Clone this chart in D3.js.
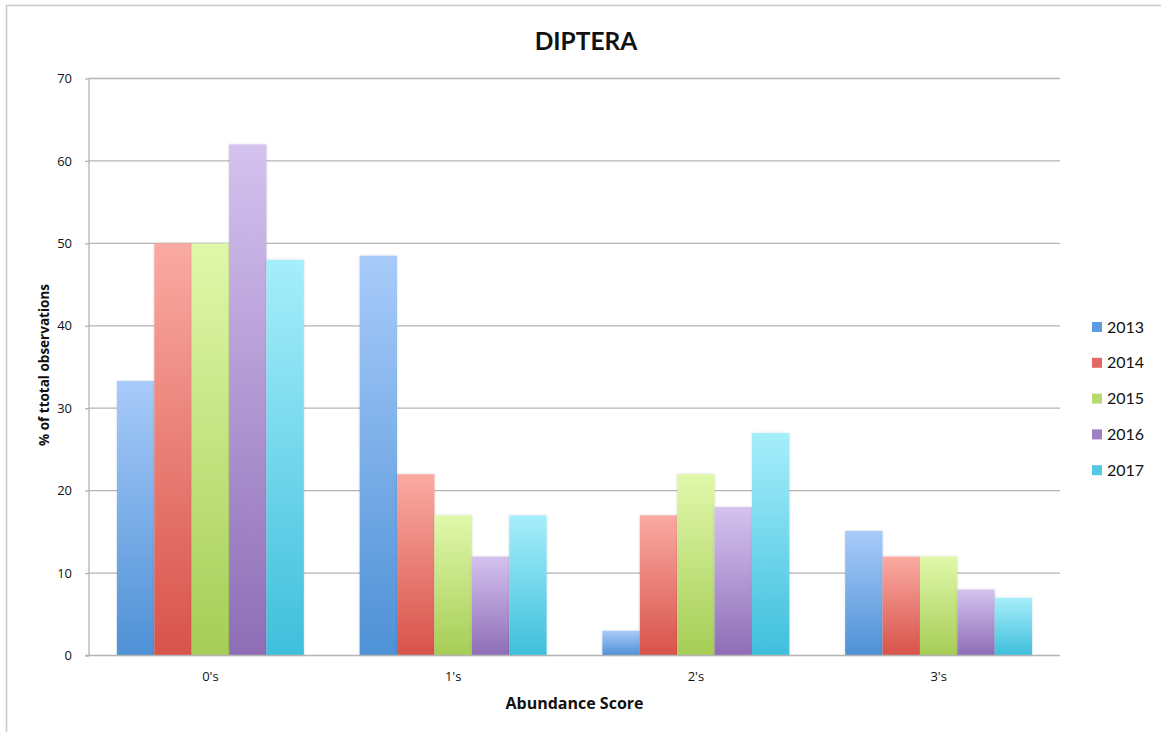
<!DOCTYPE html>
<html>
<head>
<meta charset="utf-8">
<script src="https://cdn.jsdelivr.net/npm/d3@7"></script>
<style>
  html, body { margin: 0; padding: 0; background: #fff; }
  svg { display: block; }
</style>
</head>
<body>
<div id="chart"></div>
<script>
// Abundance score categories and yearly percentages
const categories = ["0's", "1's", "2's", "3's"];
const years = ["2013", "2014", "2015", "2016", "2017"];
const values2013 = [33.3, 48.5, 3, 15.1];
const values2014 = [50, 22, 17, 12];
const values2015 = [50, 17, 22, 12];
const values2016 = [62, 12, 18, 8];
const values2017 = [48, 17, 27, 7];
const yTicks = [0, 10, 20, 30, 40, 50, 60, 70];

const seriesValues = [values2013, values2014, values2015, values2016, values2017];

// light (top) and dark (bottom) stops of each year's bar gradient
const topColors = ["#a8cbfa", "#faaaa2", "#e0f8aa", "#d4c2ef", "#a6eefb"];
const bottomColors = ["#4e91d6", "#d8534a", "#a6cd56", "#8e6db6", "#3fbfdc"];
const legendColors = ["#5d9be0", "#e26a62", "#b7da72", "#9f80c4", "#52c8e4"];

const W = 1161, H = 732;
const margin = { left: 89, right: 101, top: 78.5, bottom: 76.5 };
const plotW = W - margin.left - margin.right;
const plotH = H - margin.top - margin.bottom;

const svg = d3.select("#chart").append("svg")
  .attr("width", W).attr("height", H);

const defs = svg.append("defs");
years.forEach((yr, i) => {
  const g = defs.append("linearGradient")
    .attr("id", "grad" + i)
    .attr("x1", 0).attr("y1", 0).attr("x2", 0).attr("y2", 1);
  g.append("stop").attr("offset", "0%").attr("stop-color", topColors[i]);
  g.append("stop").attr("offset", "100%").attr("stop-color", bottomColors[i]);
});
const shadow = defs.append("filter").attr("id", "shadow")
  .attr("x", "-20%").attr("y", "-5%").attr("width", "140%").attr("height", "110%");
shadow.append("feDropShadow")
  .attr("dx", 0).attr("dy", 0).attr("stdDeviation", 1.2)
  .attr("flood-color", "#000").attr("flood-opacity", 0.18);

// outer frame
svg.append("path")
  .attr("d", `M6.5,${H} V5.5 H${W}`)
  .attr("fill", "none").attr("stroke", "#c8c8c8").attr("stroke-width", 1.5);

const g = svg.append("g").attr("transform", `translate(${margin.left},${margin.top})`);

const x0 = d3.scaleBand().domain(categories).range([0, plotW]).paddingInner(0.23).paddingOuter(0.115);
const x1 = d3.scaleBand().domain(years).range([0, x0.bandwidth()]).padding(0);
const y = d3.scaleLinear().domain([0, 70]).range([plotH, 0]);

// horizontal gridlines
g.append("g").selectAll("line").data(yTicks.slice(1)).join("line")
  .attr("x1", 0).attr("x2", plotW)
  .attr("y1", d => y(d)).attr("y2", d => y(d))
  .attr("stroke", "#b4b4b4").attr("stroke-width", 1.3);

// y axis
const yAxis = g.append("g")
  .call(d3.axisLeft(y).tickValues(yTicks).tickSize(4).tickPadding(13).tickFormat(d3.format("d")));
yAxis.select(".domain").attr("stroke", "#b4b4b4").attr("stroke-width", 1.3).attr("d", `M0,0 V${plotH}`);
yAxis.selectAll(".tick line").attr("stroke", "#b4b4b4").attr("stroke-width", 1.3);
yAxis.selectAll(".tick text")
  .attr("font-family", "'Open Sans', 'DejaVu Sans', sans-serif")
  .attr("font-size", 13).attr("fill", "#111");

// bars
const groups = g.append("g").selectAll("g").data(categories).join("g")
  .attr("transform", d => `translate(${x0(d)},0)`);
groups.selectAll("rect")
  .data((c, ci) => years.map((yr, si) => ({ yr, si, v: seriesValues[si][ci] })))
  .join("rect")
  .attr("x", d => x1(d.yr))
  .attr("width", x1.bandwidth())
  .attr("y", d => y(d.v))
  .attr("height", d => plotH - y(d.v))
  .attr("fill", d => `url(#grad${d.si})`)
  .attr("filter", "url(#shadow)");

// x axis
const xAxis = g.append("g").attr("transform", `translate(0,${plotH})`)
  .call(d3.axisBottom(x0).tickSize(0).tickPadding(16));
xAxis.select(".domain").attr("stroke", "#b4b4b4").attr("stroke-width", 1.3).attr("d", `M-4,0 H${plotW}`);
xAxis.selectAll(".tick text")
  .attr("font-family", "'Open Sans', 'DejaVu Sans', sans-serif")
  .attr("font-size", 13).attr("fill", "#111");

// titles
svg.append("text")
  .attr("x", 586).attr("y", 49.5)
  .attr("text-anchor", "middle")
  .attr("font-family", "Lato, 'Open Sans', sans-serif")
  .attr("font-weight", "bold").attr("font-size", 24.5).attr("fill", "#111")
  .text("DIPTERA");

svg.append("text")
  .attr("x", 574.5).attr("y", 709)
  .attr("text-anchor", "middle")
  .attr("font-family", "'Open Sans', sans-serif")
  .attr("font-weight", "bold").attr("font-size", 16).attr("fill", "#111")
  .text("Abundance Score");

svg.append("text")
  .attr("transform", `translate(49,365) rotate(-90)`)
  .attr("text-anchor", "middle")
  .attr("font-family", "'Open Sans', sans-serif")
  .attr("font-weight", "bold").attr("font-size", 13.5).attr("fill", "#111")
  .text("% of ttotal observations");

// legend
const legend = svg.append("g").attr("transform", "translate(1092,327)");
const rows = legend.selectAll("g").data(years).join("g")
  .attr("transform", (d, i) => `translate(0,${i * 35.8})`);
rows.append("rect")
  .attr("x", 0).attr("y", -5).attr("width", 10).attr("height", 10)
  .attr("fill", (d, i) => legendColors[i]);
rows.append("text")
  .attr("x", 15).attr("y", 0).attr("dy", "0.35em")
  .attr("font-family", "Lato, 'Open Sans', sans-serif")
  .attr("font-size", 16).attr("fill", "#111")
  .text(d => d);
</script>
</body>
</html>
